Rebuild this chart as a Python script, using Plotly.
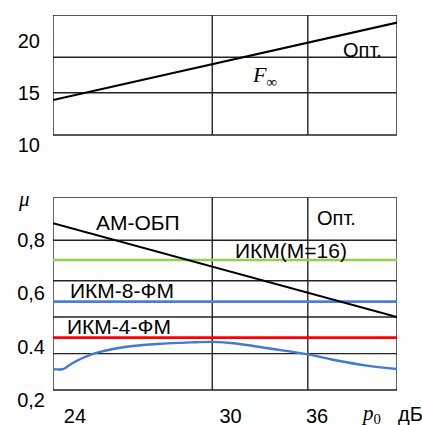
import plotly.graph_objects as go

# ---- data (schematic axes) ----
x_range = [20.0, 41.6]
p0_grid = [30, 36]                      # vertical grid lines (dB)
x_tick_pos = [21.38, 31.15, 36.58]      # where the labels sit
x_tick_text = ["24", "30", "36"]

# top panel: F_inf
top_range = [9.33, 22.46]
top_box = [10.96, 22.46]
top_grid_y = [15.01, 18.41]
top_tick_vals = [10, 15, 20]
top_tick_text = ["10", "15", "20"]
F_x = [20.0, 41.6]
F_y = [14.31, 21.73]

# bottom panel: mu
bot_range = [0.1926, 0.96]
bot_box = [0.2375, 0.96]
bot_grid_y = [0.374, 0.511, 0.647, 0.799]
bot_tick_vals = [0.2, 0.4, 0.6, 0.8]
bot_tick_text = ["0,2", "0.4", "0,6", "0,8"]

am_x = [20.0, 41.6]
am_y = [0.863, 0.511]
ikm16_y = [0.725, 0.725]
ikm8_y = [0.569, 0.569]
ikm4_y = [0.434, 0.434]

opt_x = [20.0, 20.63, 21.24, 22.51, 24.40, 26.55, 28.63, 30.02, 31.35,
         33.49, 36.02, 37.66, 39.81, 41.6]
opt_y = [0.316, 0.316, 0.339, 0.373, 0.398, 0.410, 0.416, 0.418, 0.413,
         0.394, 0.371, 0.350, 0.328, 0.316]

FONT = "Liberation Sans, Arial, sans-serif"
SERIF = "Liberation Serif, Times New Roman, serif"
W, H = 422, 425
ML, MR = 53, 25

fig = go.Figure()

fig.add_trace(go.Scatter(x=F_x, y=F_y, mode="lines", xaxis="x", yaxis="y",
                         line=dict(color="black", width=2.2), showlegend=False))
fig.add_trace(go.Scatter(x=x_range, y=ikm16_y, mode="lines", xaxis="x2", yaxis="y2",
                         line=dict(color="#92d050", width=2.6), showlegend=False))
fig.add_trace(go.Scatter(x=x_range, y=ikm8_y, mode="lines", xaxis="x2", yaxis="y2",
                         line=dict(color="#4a7fd8", width=2.6), showlegend=False))
fig.add_trace(go.Scatter(x=x_range, y=ikm4_y, mode="lines", xaxis="x2", yaxis="y2",
                         line=dict(color="#ff0000", width=2.6), showlegend=False))
fig.add_trace(go.Scatter(x=am_x, y=am_y, mode="lines", xaxis="x2", yaxis="y2",
                         line=dict(color="black", width=2), showlegend=False))
fig.add_trace(go.Scatter(x=opt_x, y=opt_y, mode="lines", xaxis="x2", yaxis="y2",
                         line=dict(color="#3f7bd6", width=2.4, shape="spline", smoothing=1.0),
                         showlegend=False))

shapes = []
GL = dict(color="#222222", width=1.4)
# frames
shapes.append(dict(type="rect", xref="x", yref="y", x0=x_range[0], x1=x_range[1],
                   y0=top_box[0], y1=top_box[1], line=GL, layer="below"))
shapes.append(dict(type="rect", xref="x2", yref="y2", x0=x_range[0], x1=x_range[1],
                   y0=bot_box[0], y1=bot_box[1], line=GL, layer="below"))
for gy in top_grid_y:
    shapes.append(dict(type="line", xref="x", yref="y", x0=x_range[0], x1=x_range[1],
                       y0=gy, y1=gy, line=GL, layer="below"))
for gy in bot_grid_y:
    shapes.append(dict(type="line", xref="x2", yref="y2", x0=x_range[0], x1=x_range[1],
                       y0=gy, y1=gy, line=GL, layer="below"))
for gx in p0_grid:
    shapes.append(dict(type="line", xref="x", yref="y", x0=gx, x1=gx,
                       y0=top_box[0], y1=top_box[1], line=GL, layer="below"))
    shapes.append(dict(type="line", xref="x2", yref="y2", x0=gx, x1=gx,
                       y0=bot_box[0], y1=bot_box[1], line=GL, layer="below"))

def ann(x, y, text, xr="x2", yr="y2", size=21, family=FONT, xanchor="center"):
    return dict(x=x, y=y, xref=xr, yref=yr, text=text, showarrow=False,
                xanchor=xanchor, yanchor="middle",
                font=dict(family=family, size=size, color="black"))

def px_x(px):
    return (px - ML) / (W - ML - MR)

def px_y(py):
    return 1 - py / H

annotations = [
    ann(39.43, 19.11, "Опт.", "x", "y", size=20),
    ann(33.25, 16.62, "<i>F</i><sub>∞</sub>", "x", "y", size=22, family=SERIF),
    ann(37.77, 0.884, "Опт.", size=20),
    ann(25.31, 0.864, "АМ-ОБП"),
    ann(34.94, 0.759, "ИКМ(М=16)"),
    ann(24.31, 0.609, "ИКМ-8-ФМ"),
    ann(24.14, 0.475, "ИКМ-4-ФМ"),
    # axis captions outside the plotting area (paper coordinates)
    ann(px_x(24), px_y(199), "<i>μ</i>", "paper", "paper", size=21, family=SERIF),
    ann(px_x(371), px_y(414), "<i>p</i><sub>0</sub>", "paper", "paper", size=21, family=SERIF),
    ann(px_x(396), px_y(414), "дБ", "paper", "paper", size=20, xanchor="left"),
]

def dom(py_top, py_bot):
    return [1 - py_bot / H, 1 - py_top / H]

fig.update_layout(
    template="none",
    width=W, height=H,
    margin=dict(l=ML, r=MR, t=0, b=0),
    paper_bgcolor="white", plot_bgcolor="white",
    font=dict(family=FONT, size=20, color="black"),
    showlegend=False,
    xaxis=dict(domain=[0, 1], range=x_range, anchor="y", showgrid=False, zeroline=False,
               showline=False, showticklabels=False, ticks="", automargin=False),
    yaxis=dict(domain=dom(15, 152), range=top_range, anchor="x", showgrid=False,
               zeroline=False, showline=False, ticks="", tickvals=top_tick_vals,
               ticktext=top_tick_text, ticklabelstandoff=12, automargin=False,
               tickfont=dict(size=20)),
    xaxis2=dict(domain=[0, 1], range=x_range, anchor="y2", showgrid=False, zeroline=False,
                showline=False, ticks="", tickvals=x_tick_pos, ticktext=x_tick_text,
                automargin=False, tickfont=dict(size=20)),
    yaxis2=dict(domain=dom(197.3, 402), range=bot_range, anchor="x2", showgrid=False,
                zeroline=False, showline=False, ticks="", tickvals=bot_tick_vals,
                ticktext=bot_tick_text, ticklabelstandoff=7, automargin=False,
                tickfont=dict(size=20)),
    shapes=shapes,
    annotations=annotations,
)

fig.write_html("out.html", config={"displayModeBar": False},
               post_script="document.body.style.margin='0';document.body.style.overflow='hidden';")
